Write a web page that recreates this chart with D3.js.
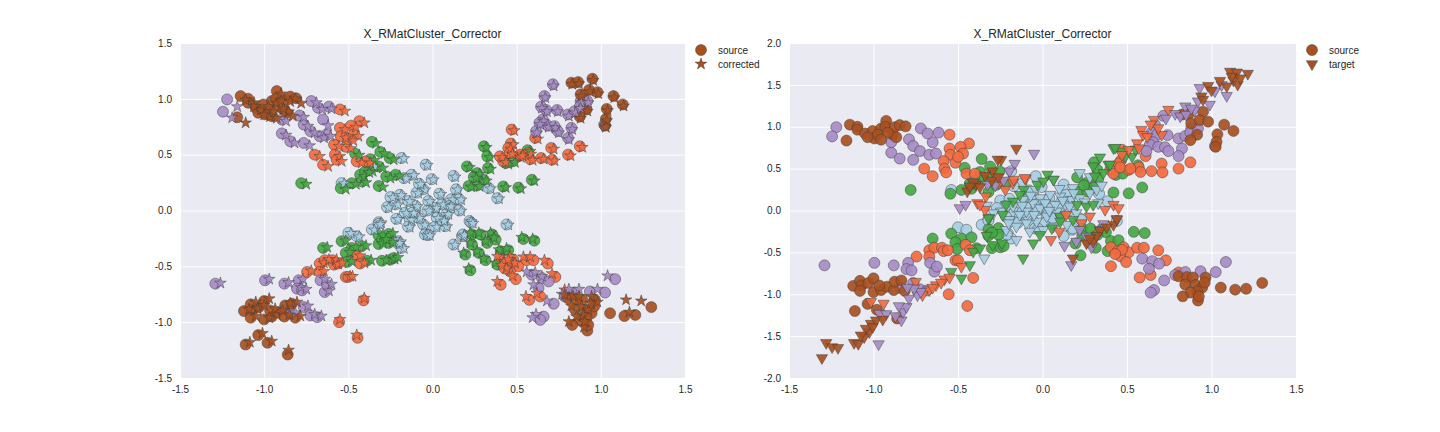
<!DOCTYPE html>
<html>
<head>
<meta charset="utf-8">
<script src="https://cdn.jsdelivr.net/npm/d3@7"></script>
<style>
    body { margin: 0; background: #fff; }
    text { font-family: "Liberation Sans", Arial, sans-serif; fill: #262626; }
</style>
</head>
<body>
<svg id="chart" width="1440" height="432"></svg>
<script>
(function() {
    'use strict';

    var chartTitle = 'X_RMatCluster_Corrector';
    var xTicks = [-1.5, -1.0, -0.5, 0.0, 0.5, 1.0, 1.5];
    var yTicksLeft = [-1.5, -1.0, -0.5, 0.0, 0.5, 1.0, 1.5];
    var yTicksRight = [-2.0, -1.5, -1.0, -0.5, 0.0, 0.5, 1.0, 1.5, 2.0];
    var legendLeft = ['source', 'corrected'];
    var legendRight = ['source', 'target'];
    var clusterColors = ['#a6cee3', '#44a843', '#f26a3f', '#a68bc6', '#a9501f'];

    // source points, shared by both panels
    var srcBlue = [
        [-0.04,0.41],[-0.125,0.32],[-0.17,0.29],[-0.005,0.28],[-0.055,0.19],[-0.095,0.16],[-0.25,0.12],[-0.195,0.14],[-0.22,0.055],[-0.145,0.085],
        [-0.10,0.04],[-0.025,0.085],[0.015,0.025],[0.055,0.055],[0.11,0.10],[0.14,0.19],[0.125,0.31],[0.16,0.10],[0.16,0.0],[0.085,-0.03],
        [0.025,-0.065],[-0.165,-0.02],[-0.215,-0.075],[-0.135,-0.08],[-0.085,-0.065],[-0.055,-0.125],[-0.145,-0.145],[-0.045,-0.215],[0.015,-0.145],[0.075,-0.14],
        [-0.025,-0.22],[-0.32,-0.105],[-0.36,-0.17],[-0.50,-0.20],[-0.45,-0.23],[-0.205,-0.275],[-0.185,-0.335],[0.385,0.11],[0.44,-0.125],[0.22,-0.095],
        [0.175,-0.23],[0.125,-0.305],[-0.54,0.245],[-0.185,0.47],[0.335,0.20],[-0.36,0.395],[0.23,-0.11],[0.18,-0.215],[-0.08,0.24],
        [0.04,0.15],[-0.27,0.03],[0.06,-0.09],[-0.12,-0.02],[0.10,0.04],[-0.03,0.0],[-0.32,-0.12],[-0.21,-0.29]
    ];
    var srcGreen = [
        [-0.78,0.245],[-0.545,0.20],[-0.36,0.615],[-0.31,0.525],[-0.37,0.46],[-0.32,0.395],[-0.255,0.47],[-0.22,0.32],[-0.43,0.32],[-0.48,0.245],
        [-0.42,0.26],[-0.38,0.365],[-0.32,0.22],[-0.275,0.305],[-0.46,0.51],[-0.40,0.35],
        [0.305,0.575],[0.325,0.485],[0.205,0.395],[0.265,0.335],[0.33,0.38],[0.305,0.275],[0.215,0.22],[0.265,0.225],[0.42,0.215],[0.51,0.205],
        [0.59,0.275],[0.435,0.425],[0.475,0.44],[0.565,0.54],[0.245,0.30],
        [-0.65,-0.335],[-0.54,-0.275],[-0.48,-0.335],[-0.515,-0.38],[-0.42,-0.32],[-0.505,-0.46],[-0.39,-0.45],[-0.30,-0.45],[-0.25,-0.44],[-0.23,-0.425],
        [-0.32,-0.225],[-0.26,-0.21],[-0.32,-0.30],[-0.26,-0.29],[-0.30,-0.265],
        [0.235,-0.215],[0.285,-0.215],[0.355,-0.215],[0.375,-0.26],[0.325,-0.29],[0.235,-0.305],[0.195,-0.395],[0.275,-0.38],[0.315,-0.445],[0.225,-0.535],
        [0.385,-0.485],[0.405,-0.365],[0.45,-0.355],[0.54,-0.255],[0.605,-0.27]
    ];
    var srcOrange = [
        [-0.55,0.905],[-0.435,0.80],[-0.55,0.74],[-0.485,0.76],[-0.545,0.665],[-0.47,0.68],[-0.585,0.59],[-0.515,0.57],[-0.58,0.50],[-0.70,0.50],
        [-0.65,0.41],[-0.57,0.455],[-0.45,0.44],[-0.40,0.44],[-0.50,0.64],
        [0.47,0.725],[0.465,0.60],[0.45,0.56],[0.40,0.485],[0.42,0.44],[0.51,0.485],[0.57,0.515],[0.58,0.46],[0.61,0.65],[0.645,0.47],
        [0.705,0.56],[0.71,0.455],[0.805,0.50],[0.875,0.575],[0.46,0.515],[0.52,0.50],
        [-0.745,-0.55],[-0.67,-0.475],[-0.64,-0.445],[-0.67,-0.55],[-0.595,-0.445],[-0.585,-0.485],[-0.56,-0.475],[-0.515,-0.595],[-0.50,-0.595],[-0.455,-0.41],
        [-0.43,-0.475],[-0.41,-0.805],[-0.555,-1.0],[-0.445,-1.14],
        [0.405,-0.44],[0.445,-0.485],[0.48,-0.44],[0.51,-0.50],[0.46,-0.545],[0.495,-0.615],[0.405,-0.665],[0.56,-0.445],[0.60,-0.445],[0.685,-0.475],
        [0.73,-0.595],[0.64,-0.77],[0.575,-0.80],[0.805,-0.74],[0.47,-0.47],[0.43,-0.52]
    ];
    var srcPurple = [
        [-1.22,0.995],[-1.245,0.885],[-0.72,0.98],[-0.615,0.93],[-0.65,0.815],[-0.79,0.85],[-0.765,0.77],[-0.725,0.71],[-0.67,0.665],[-0.63,0.68],
        [-0.895,0.69],[-0.845,0.62],[-0.765,0.605],[-0.895,0.815],[-0.68,0.92],
        [0.715,1.13],[0.665,1.025],[0.645,0.93],[0.675,0.90],[0.74,0.90],[0.655,0.815],[0.635,0.785],[0.685,0.76],[0.725,0.755],[0.745,0.71],
        [0.615,0.71],[0.805,0.86],[0.845,0.89],[0.88,0.98],[0.875,0.93],[0.92,0.98],[0.825,0.74],[0.805,0.65],[1.02,0.77],
        [-1.29,-0.655],[-0.995,-0.625],[-0.88,-0.655],[-0.795,-0.625],[-0.805,-0.70],[-0.775,-0.715],[-0.665,-0.625],[-0.64,-0.73],[-0.625,-0.67],[-0.765,-0.865],
        [-0.725,-0.94],[-0.685,-0.955],[-0.84,-0.925],
        [0.59,-0.575],[0.65,-0.605],[0.69,-0.635],[0.63,-0.695],[0.72,-0.835],[0.785,-0.77],[0.845,-0.735],[0.935,-0.725],[1.025,-0.735],[1.085,-0.615],
        [0.66,-0.95],[0.64,-0.98]
    ];
    var srcBrown = [
        [-1.14,1.025],[-1.095,1.0],[-1.095,0.965],[-1.16,0.835],[-1.05,0.92],[-1.005,0.95],[-0.995,0.86],[-0.955,0.98],[-0.925,1.07],[-0.93,1.0],
        [-0.975,0.905],[-0.885,0.905],[-0.875,0.995],[-0.845,1.02],[-0.81,1.005],[-0.865,0.875],[-0.915,0.93],[-1.035,0.875],[-0.955,0.845],
        [0.825,1.145],[0.865,1.15],[0.95,1.18],[0.88,1.04],[0.93,1.08],[0.98,1.06],[1.075,1.025],[1.13,0.95],[1.035,0.91],[0.915,0.905],
        [0.875,0.84],[1.03,0.82],[1.025,0.76],
        [-1.12,-0.90],[-1.08,-0.84],[-1.07,-0.895],[-1.03,-0.865],[-1.08,-0.96],[-1.0,-0.81],[-1.0,-0.975],[-0.955,-0.95],[-0.92,-0.91],[-0.965,-0.895],
        [-0.88,-0.95],[-0.875,-0.85],[-0.835,-0.835],[-0.815,-0.96],[-1.11,-1.20],[-1.035,-1.115],[-0.98,-1.185],[-0.86,-1.29],
        [0.805,-0.785],[0.855,-0.795],[0.89,-0.80],[0.965,-0.80],[0.845,-0.885],[0.905,-0.89],[0.945,-0.92],[0.915,-0.965],[0.875,-0.98],[0.83,-1.025],
        [0.92,-1.075],[0.925,-1.025],[1.055,-0.92],[1.14,-0.945],[1.205,-0.935],[1.30,-0.865],[0.96,-0.86]
    ];

    // corrected points (left panel)
    var corBlue = [
        [-0.03,0.405],[-0.11,0.315],[-0.155,0.285],[0.005,0.275],[-0.045,0.185],[-0.085,0.155],[-0.235,0.115],[-0.185,0.135],[-0.205,0.05],[-0.135,0.08],
        [-0.09,0.035],[-0.015,0.08],[0.025,0.02],[0.065,0.05],[0.12,0.095],[0.15,0.185],[0.135,0.30],[0.17,0.095],[0.17,-0.005],[0.095,-0.035],
        [0.035,-0.07],[-0.155,-0.025],[-0.205,-0.08],[-0.125,-0.085],[-0.075,-0.07],[-0.045,-0.13],[-0.135,-0.15],[-0.035,-0.22],[0.025,-0.15],[0.085,-0.145],
        [-0.015,-0.225],[-0.305,-0.11],[-0.345,-0.175],[-0.485,-0.205],[-0.435,-0.235],[-0.19,-0.28],[-0.17,-0.34],[0.395,0.105],[0.45,-0.13],[0.23,-0.10],
        [0.185,-0.235],[0.135,-0.31],[-0.525,0.24],[-0.17,0.465],[0.345,0.195],[-0.345,0.39],[0.24,-0.115],[0.19,-0.22],[-0.07,0.235],
        [0.05,0.145],[-0.26,0.025],[0.07,-0.095],[-0.11,-0.025],[0.11,0.035],[-0.02,-0.005],[-0.31,-0.125],[-0.195,-0.295]
    ];
    var corGreen = [
        [-0.75,0.235],[-0.515,0.19],[-0.335,0.6],[-0.285,0.51],[-0.345,0.45],[-0.295,0.38],[-0.23,0.455],[-0.195,0.31],[-0.405,0.305],[-0.455,0.235],
        [-0.395,0.25],[-0.355,0.35],[-0.295,0.21],[-0.25,0.29],[-0.435,0.495],[-0.375,0.34],
        [0.32,0.565],[0.34,0.475],[0.22,0.385],[0.28,0.325],[0.345,0.37],[0.32,0.265],[0.23,0.21],[0.28,0.215],[0.435,0.205],[0.525,0.195],
        [0.605,0.265],[0.45,0.415],[0.49,0.43],[0.58,0.53],[0.26,0.29],
        [-0.625,-0.33],[-0.515,-0.27],[-0.455,-0.33],[-0.49,-0.375],[-0.395,-0.315],[-0.48,-0.455],[-0.365,-0.445],[-0.275,-0.445],[-0.225,-0.435],[-0.205,-0.42],
        [-0.295,-0.22],[-0.235,-0.205],[-0.295,-0.295],[-0.235,-0.285],[-0.275,-0.26],
        [0.225,-0.2],[0.275,-0.2],[0.345,-0.2],[0.365,-0.245],[0.315,-0.275],[0.225,-0.29],[0.185,-0.38],[0.265,-0.365],[0.305,-0.43],[0.215,-0.52],
        [0.375,-0.47],[0.395,-0.35],[0.44,-0.34],[0.53,-0.24],[0.595,-0.255]
    ];
    var corOrange = [
        [-0.52,0.89],[-0.405,0.785],[-0.52,0.725],[-0.455,0.745],[-0.515,0.65],[-0.44,0.665],[-0.555,0.575],[-0.485,0.555],[-0.55,0.485],[-0.67,0.485],
        [-0.62,0.395],[-0.54,0.44],[-0.42,0.425],[-0.37,0.425],[-0.47,0.625],
        [0.485,0.715],[0.48,0.59],[0.465,0.55],[0.415,0.475],[0.435,0.43],[0.525,0.475],[0.585,0.505],[0.595,0.45],[0.625,0.64],[0.66,0.46],
        [0.72,0.55],[0.725,0.445],[0.82,0.49],[0.89,0.565],[0.475,0.505],[0.535,0.49],
        [-0.72,-0.54],[-0.645,-0.47],[-0.615,-0.44],[-0.645,-0.545],[-0.57,-0.44],[-0.56,-0.48],[-0.535,-0.47],[-0.49,-0.59],[-0.475,-0.59],[-0.43,-0.405],
        [-0.405,-0.47],[-0.405,-0.785],[-0.55,-0.975],[-0.45,-1.115],
        [0.385,-0.41],[0.425,-0.455],[0.46,-0.41],[0.49,-0.47],[0.44,-0.515],[0.475,-0.585],[0.385,-0.635],[0.54,-0.415],[0.58,-0.415],[0.665,-0.445],
        [0.71,-0.565],[0.62,-0.74],[0.555,-0.77],[0.785,-0.71],[0.45,-0.44],[0.41,-0.49]
    ];
    var corPurple = [
        [-1.16,0.93],[-1.19,0.83],[-0.69,0.965],[-0.6,0.91],[-0.62,0.76],[-0.765,0.835],[-0.74,0.755],[-0.7,0.695],[-0.645,0.65],[-0.605,0.665],
        [-0.87,0.675],[-0.82,0.605],[-0.73,0.58],[-0.87,0.8],[-0.655,0.905],
        [0.72,1.115],[0.67,1.01],[0.65,0.915],[0.68,0.885],[0.745,0.885],[0.66,0.8],[0.64,0.77],[0.69,0.745],[0.73,0.74],[0.75,0.695],
        [0.62,0.695],[0.81,0.845],[0.85,0.875],[0.885,0.965],[0.88,0.915],[0.925,0.965],[0.83,0.725],[0.81,0.635],[1.025,0.755],
        [-1.26,-0.65],[-0.97,-0.615],[-0.855,-0.645],[-0.77,-0.615],[-0.78,-0.69],[-0.75,-0.705],[-0.64,-0.615],[-0.615,-0.72],[-0.6,-0.66],[-0.74,-0.855],
        [-0.7,-0.93],[-0.66,-0.945],[-0.815,-0.915],
        [0.56,-0.55],[0.61,-0.555],[0.65,-0.59],[0.6,-0.665],[0.68,-0.81],[0.77,-0.75],[0.81,-0.705],[0.87,-0.705],[0.98,-0.705],[1.04,-0.585],
        [0.615,-0.93],[0.595,-0.96]
    ];
    var corBrown = [
        [-1.11,0.99],[-1.06,0.965],[-1.06,0.93],[-1.11,0.785],[-1.02,0.9],[-0.975,0.93],[-0.965,0.84],[-0.925,0.96],[-0.9,1.045],[-0.9,0.98],
        [-0.945,0.885],[-0.855,0.885],[-0.845,0.975],[-0.815,1.0],[-0.78,0.96],[-0.83,0.845],[-0.885,0.91],[-1.0,0.855],[-0.925,0.825],
        [0.83,1.13],[0.87,1.135],[0.955,1.165],[0.885,1.025],[0.935,1.065],[0.985,1.045],[1.08,1.01],[1.135,0.935],[1.04,0.895],[0.92,0.89],
        [0.88,0.825],[1.035,0.805],[1.03,0.745],
        [-1.09,-0.885],[-1.05,-0.82],[-1.04,-0.88],[-1.0,-0.85],[-1.05,-0.945],[-0.97,-0.79],[-0.97,-0.96],[-0.925,-0.935],[-0.89,-0.895],[-0.935,-0.88],
        [-0.85,-0.935],[-0.845,-0.83],[-0.805,-0.82],[-0.785,-0.945],[-1.085,-1.18],[-1.01,-1.1],[-0.955,-1.17],[-0.855,-1.25],
        [0.785,-0.755],[0.835,-0.765],[0.87,-0.77],[0.945,-0.77],[0.825,-0.855],[0.885,-0.86],[0.925,-0.89],[0.895,-0.935],[0.855,-0.95],[0.81,-0.995],
        [0.9,-1.045],[0.905,-0.995],[0.98,-0.82],[1.15,-0.8],[1.17,-0.91],[1.24,-0.81],[0.94,-0.83]
    ];

    // target points (right panel)
    var tgtBlue = [
        [0.065,0.37],[0.22,0.45],[0.18,0.27],[0.105,0.17],[0.045,0.19],[-0.015,0.15],[-0.055,0.09],[-0.095,-0.01],[-0.135,-0.05],[-0.195,-0.11],
        [-0.155,-0.19],[-0.095,-0.15],[-0.035,-0.13],[0.025,-0.07],[0.085,-0.01],[0.135,0.07],[0.17,0.13],[0.22,0.15],[0.28,0.21],[0.32,0.25],
        [0.005,-0.23],[-0.075,-0.25],[-0.215,-0.23],[-0.345,-0.57],[0.16,0.05],[0.075,0.07],[-0.015,0.03],[0.015,0.09],[-0.115,0.13],[-0.175,0.05],
        [-0.245,-0.01],[0.065,-0.19],[0.145,-0.17],[-0.155,-0.35],[-0.04,0.25],[0.185,0.21],[0.10,0.26],[-0.29,-0.03],[-0.33,0.06],[0.25,0.10],
        [0.20,-0.03],[0.11,-0.10],[-0.05,-0.05],[0.04,0.0],[-0.12,0.06],[-0.20,-0.15],[0.28,0.40],[0.12,0.12],[-0.07,0.18],[0.33,0.09],[0.35,0.30]
    ];
    var tgtGreen = [
        [0.42,0.745],[0.47,0.705],[0.49,0.645],[0.53,0.645],[0.34,0.635],[0.39,0.55],[0.30,0.53],[0.36,0.45],[0.31,0.41],[0.03,0.43],
        [0.065,0.37],[0.205,0.07],[0.105,-0.07],[0.40,0.55],[0.43,0.75],[0.26,0.05],[0.30,0.07],[0.55,0.73],
        [-0.03,0.31],[-0.11,0.25],[-0.175,0.11],[-0.135,0.19],[-0.215,0.07],[-0.235,-0.05],[-0.315,-0.09],[-0.295,-0.41],[-0.115,-0.57],[-0.055,-0.39],
        [-0.015,-0.29],[0.055,-0.21],[0.105,-0.13],[0.18,-0.11],[0.005,0.35],
        [-0.32,-0.09],[-0.41,-0.49],[-0.48,-0.81],[-0.54,-0.73],[-0.43,-0.65],[-0.24,-0.39],[-0.33,-0.30],[-0.37,-0.45]
    ];
    var tgtOrange = [
        [0.66,1.085],[0.745,1.205],[0.705,0.905],[0.685,0.985],[0.585,0.965],[0.595,0.905],[0.56,0.805],[0.57,0.745],[0.51,0.725],[0.47,0.665],
        [0.64,1.03],[0.62,0.88],
        [0.42,0.07],[0.45,0.03],[0.37,0.01],[0.28,-0.07],[-0.10,0.38],[-0.175,0.33],[-0.255,0.33],[-0.335,0.17],[-0.385,0.09],[-0.34,0.01],
        [-0.17,0.37],[-0.105,0.39],[0.05,-0.35],[0.14,-0.05],[0.23,-0.15],[-0.22,0.25],[0.10,-0.25],
        [-1.015,-1.09],[-0.94,-1.11],[-0.75,-0.85],[-0.67,-0.95],[-0.71,-1.01],[-0.63,-0.89],[-0.58,-0.82],[-0.55,-0.80],[-0.48,-0.67],[-0.37,0.07],
        [-0.65,-0.92],[-0.60,-0.86]
    ];
    var tgtPurple = [
        [0.93,1.465],[1.02,1.425],[1.09,1.37],[0.99,1.265],[0.92,1.305],[0.845,1.245],[0.785,1.155],[0.815,1.125],[0.85,1.145],[0.90,1.195],
        [1.06,1.50],[0.88,1.22],[0.73,1.10],
        [-0.05,0.68],[-0.165,0.56],[-0.195,0.47],[-0.325,0.31],[-0.49,0.03],[-0.455,0.07],[-0.41,0.34],[-0.28,0.30],[-0.23,0.36],[0.44,-0.11],
        [0.34,-0.23],[0.26,-0.31],[0.13,-0.42],[0.17,-0.65],[0.22,-0.23],[0.29,-0.44],[0.36,-0.16],[0.20,-0.37],
        [-0.97,-1.595],[-0.965,-1.23],[-0.925,-1.235],[-0.835,-1.31],[-0.825,-1.21],[-0.805,-1.15],[-0.79,-1.05],[-0.74,-1.01],[-0.72,-0.97],
        [-0.85,-1.14],[-0.76,-0.93],[-0.87,-1.26],[-0.80,-0.92]
    ];
    var tgtBrown = [
        [1.11,1.66],[1.15,1.65],[1.215,1.635],[1.13,1.555],[1.155,1.505],[1.09,1.485],[1.05,1.55],[0.98,1.49],[1.0,1.435],[0.94,1.365],
        [0.95,1.325],[1.12,1.60],[1.17,1.58],
        [-0.155,0.74],[-0.245,0.605],[-0.265,0.61],[-0.295,0.47],[-0.395,0.31],[-0.445,0.23],[-0.41,0.33],[-0.37,0.28],[-0.34,0.42],[-0.30,0.36],
        [-0.26,0.40],[-0.43,0.29],
        [0.42,-0.17],[0.30,-0.37],[0.26,-0.39],[0.18,-0.57],[0.34,-0.24],[0.38,-0.20],[0.32,-0.30],[0.28,-0.33],[0.44,-0.10],
        [-1.305,-1.76],[-1.28,-1.58],[-1.245,-1.63],[-1.21,-1.64],[-1.115,-1.58],[-1.09,-1.59],[-1.055,-1.51],[-1.025,-1.45],[-1.015,-1.35],
        [-0.985,-1.31],[-0.945,-1.30],[-1.045,-1.41],[-1.075,-1.49],[-1.005,-1.39]
    ];

    var source = [srcBlue, srcGreen, srcOrange, srcPurple, srcBrown];
    var corrected = [corBlue, corGreen, corOrange, corPurple, corBrown];
    var target = [tgtBlue, tgtGreen, tgtOrange, tgtPurple, tgtBrown];

    var svg = d3.select('#chart');
    var plotTop = 43, plotBottom = 378;
    var fmt = function(d) { return d.toFixed(1); };

    var circlePath = d3.symbol().type(d3.symbolCircle).size(95)();
    var starPath = d3.symbol().type(d3.symbolStar).size(42)();
    var triPath = d3.symbol().type(d3.symbolTriangle).size(55)();

    var markers = {
        circle: { path: circlePath, rot: 0 },
        star: { path: starPath, rot: 0 },
        tri: { path: triPath, rot: 180 }
    };

    function drawPoints(g, x, y, sets, kind) {
        sets.forEach(function(pts, i) {
            g.append('g').selectAll('path')
                .data(pts)
                .enter().append('path')
                .attr('d', markers[kind].path)
                .attr('transform', function(d) {
                    return 'translate(' + x(d[0]) + ',' + y(d[1]) + ') rotate(' + markers[kind].rot + ')';
                })
                .attr('fill', clusterColors[i])
                .attr('fill-opacity', 0.92)
                .attr('stroke', '#3a3a3a')
                .attr('stroke-opacity', 0.8)
                .attr('stroke-width', 0.6);
        });
    }

    function drawPanel(p) {
        var x = d3.scaleLinear().domain([-1.5, 1.5]).range([p.x0, p.x1]);
        var y = d3.scaleLinear().domain(p.yDomain).range([plotBottom, plotTop]);
        var g = svg.append('g');

        g.append('rect')
            .attr('x', p.x0).attr('y', plotTop)
            .attr('width', p.x1 - p.x0).attr('height', plotBottom - plotTop)
            .attr('fill', '#eaeaf2');

        var xa = g.append('g')
            .attr('transform', 'translate(0,' + plotBottom + ')')
            .call(d3.axisBottom(x).tickValues(xTicks).tickFormat(fmt)
                .tickSize(-(plotBottom - plotTop)).tickPadding(8));
        var ya = g.append('g')
            .attr('transform', 'translate(' + p.x0 + ',0)')
            .call(d3.axisLeft(y).tickValues(p.yTicks).tickFormat(fmt)
                .tickSize(-(p.x1 - p.x0)).tickPadding(8));

        [xa, ya].forEach(function(a) {
            a.select('.domain').remove();
            a.selectAll('line').attr('stroke', '#ffffff').attr('stroke-width', 1);
            a.selectAll('text').attr('font-size', 10)
                .attr('font-family', '"Liberation Sans", Arial, sans-serif')
                .attr('fill', '#262626');
        });

        g.append('text')
            .attr('x', (p.x0 + p.x1) / 2).attr('y', 38)
            .attr('text-anchor', 'middle')
            .attr('font-size', 12)
            .text(chartTitle);

        drawPoints(g, x, y, source, 'circle');
        drawPoints(g, x, y, p.second, p.kind);

        // legend
        var lg = g.append('g').attr('transform', 'translate(' + (p.x1 + 16) + ',50)');
        var legendKinds = ['circle', p.kind];
        p.legend.forEach(function(label, i) {
            lg.append('path')
                .attr('d', markers[legendKinds[i]].path)
                .attr('transform', 'translate(0,' + (i * 14) + ') rotate(' + markers[legendKinds[i]].rot + ')')
                .attr('fill', clusterColors[4])
                .attr('stroke', '#3a3a3a')
                .attr('stroke-opacity', 0.8)
                .attr('stroke-width', 0.6);
            lg.append('text')
                .attr('x', 17).attr('y', i * 14 + 3.5)
                .attr('font-size', 10)
                .text(label);
        });
    }

    drawPanel({ x0: 180, x1: 685, yDomain: [-1.5, 1.5], yTicks: yTicksLeft,
        second: corrected, kind: 'star', legend: legendLeft });
    drawPanel({ x0: 789, x1: 1296, yDomain: [-2.0, 2.0], yTicks: yTicksRight,
        second: target, kind: 'tri', legend: legendRight });
}());
</script>
</body>
</html>
